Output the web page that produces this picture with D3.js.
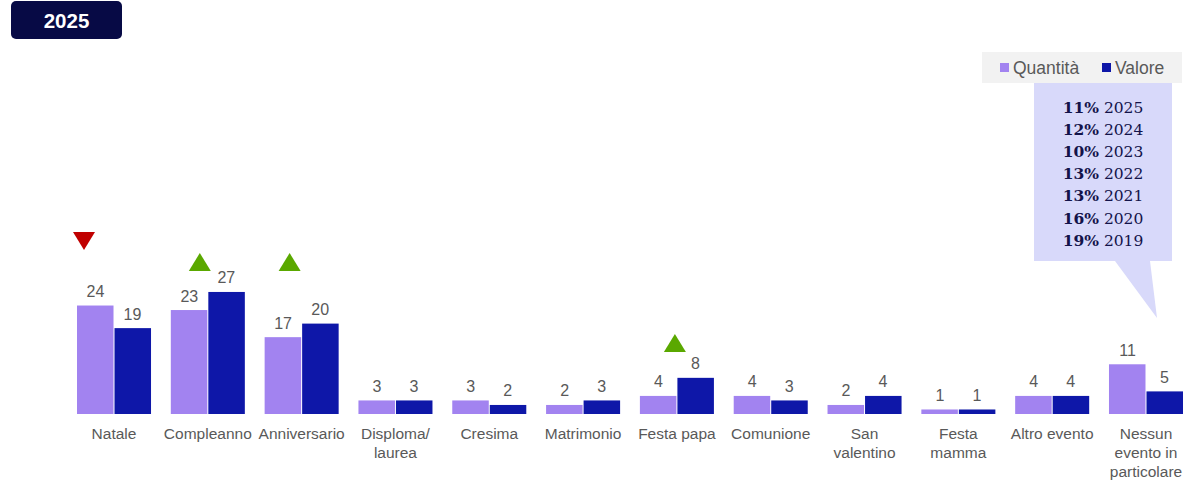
<!DOCTYPE html>
<html>
<head>
<meta charset="utf-8">
<script src="https://cdn.jsdelivr.net/npm/d3@7"></script>
<style>
  html, body { margin: 0; padding: 0; background: #ffffff; }
  svg { display: block; font-family: "Liberation Sans", Arial, sans-serif; }
</style>
</head>
<body>
<svg id="chart" width="1186" height="480"></svg>
<script>
// Occasions and shares (%) by quantity and by value
const categories = [
  "Natale", "Compleanno", "Anniversario", "Disploma/\nlaurea", "Cresima",
  "Matrimonio", "Festa papa", "Comunione", "San\nvalentino", "Festa\nmamma",
  "Altro evento", "Nessun\nevento in\nparticolare"
];
const seriesNames = ["Quantità", "Valore"];
const quantita = [24, 23, 17, 3, 3, 2, 4, 4, 2, 1, 4, 11];
const valore   = [19, 27, 20, 3, 2, 3, 8, 3, 4, 1, 4, 5];

// Year-over-year trend markers
const trendCategories = ["Natale", "Compleanno", "Anniversario", "Festa papa"];
const trendDirections = ["down", "up", "up", "up"];

// "Nessun evento" history shown in the callout
const historyShares = ["11%", "12%", "10%", "13%", "13%", "16%", "19%"];
const historyYears  = ["2025", "2024", "2023", "2022", "2021", "2020", "2019"];

const title = "2025";

// ---- layout ----
const colors = { "Quantità": "#a283f0", "Valore": "#0e17a8" };
const labelColor = "#595959";
const baseline = 414;
const markerLayout = [   // x offset from group start, top y
  { dx: 7,  top: 232 },
  { dx: 29, top: 253 },
  { dx: 25, top: 253 },
  { dx: 35, top: 334 }
];

const svg = d3.select("#chart");

const data = categories.map((c, i) => ({
  cat: c,
  values: [{ s: "Quantità", v: quantita[i] }, { s: "Valore", v: valore[i] }]
}));

const x0 = d3.scaleBand()
  .domain(categories)
  .range([67.1, 1192.9])
  .paddingInner(0.211)
  .paddingOuter(0.1055);

const x1 = d3.scaleBand()
  .domain(seriesNames)
  .range([0, x0.bandwidth()]);

const y = d3.scaleLinear()
  .domain([0, 30])
  .range([baseline, baseline - 30 * 4.52]);

// Title badge
const badge = svg.append("g");
badge.append("rect")
  .attr("x", 11).attr("y", 1).attr("width", 111).attr("height", 38)
  .attr("rx", 5).attr("fill", "#070a45");
badge.append("text")
  .attr("x", 66.5).attr("y", 28)
  .attr("text-anchor", "middle")
  .attr("fill", "#ffffff")
  .attr("font-size", 20.5).attr("font-weight", "bold")
  .text(title);

// Bars
const groups = svg.append("g").selectAll("g")
  .data(data).join("g")
  .attr("transform", d => `translate(${x0(d.cat)},0)`);

groups.selectAll("rect")
  .data(d => d.values).join("rect")
  .attr("x", d => x1(d.s) + (d.s === "Valore" ? 0.5 : 0))
  .attr("y", d => y(d.v))
  .attr("width", x1.bandwidth() - 0.5)
  .attr("height", d => y(0) - y(d.v))
  .attr("fill", d => colors[d.s]);

groups.selectAll("text.val")
  .data(d => d.values).join("text")
  .attr("class", "val")
  .attr("x", d => x1(d.s) + x1.bandwidth() / 2)
  .attr("y", d => y(d.v) - 8.5)
  .attr("text-anchor", "middle")
  .attr("fill", labelColor)
  .attr("font-size", 16)
  .text(d => d.v);

// Category labels
const catLabels = svg.append("g").selectAll("text")
  .data(categories).join("text")
  .attr("x", d => x0(d) + x0.bandwidth() / 2)
  .attr("y", 439)
  .attr("text-anchor", "middle")
  .attr("fill", labelColor)
  .attr("font-size", 15.5);
catLabels.each(function(d) {
  const t = d3.select(this);
  d.split("\n").forEach((line, i) => {
    t.append("tspan")
      .attr("x", x0(d) + x0.bandwidth() / 2)
      .attr("dy", i === 0 ? 0 : 19)
      .text(line);
  });
});

// Trend triangles
const triW = 22, triH = 18;
svg.append("g").selectAll("path")
  .data(trendCategories.map((c, i) => ({ c, dir: trendDirections[i], lay: markerLayout[i] })))
  .join("path")
  .attr("d", d => {
    const cx = x0(d.c) + d.lay.dx;
    const t = d.lay.top;
    return d.dir === "up"
      ? `M${cx - triW / 2},${t + triH} L${cx + triW / 2},${t + triH} L${cx},${t} Z`
      : `M${cx - triW / 2},${t} L${cx + triW / 2},${t} L${cx},${t + triH} Z`;
  })
  .attr("fill", d => d.dir === "up" ? "#5aa800" : "#c00000");

// Legend
const legend = svg.append("g");
legend.append("rect")
  .attr("x", 982).attr("y", 52).attr("width", 200).attr("height", 31)
  .attr("fill", "#f2f2f2");
const legendX = [1000, 1102];
seriesNames.forEach((s, i) => {
  legend.append("rect")
    .attr("x", legendX[i]).attr("y", 63).attr("width", 9).attr("height", 9)
    .attr("fill", colors[s]);
  legend.append("text")
    .attr("x", legendX[i] + 13).attr("y", 74)
    .attr("fill", labelColor)
    .attr("font-size", 17.5)
    .text(s);
});

// Callout for "Nessun evento in particolare"
const callout = svg.append("g");
callout.append("path")
  .attr("d", "M1034,83 L1172,83 L1172,261 L1150,261 L1157,318 L1115,261 L1034,261 Z")
  .attr("fill", "#d8d9fa");
const hist = callout.append("g")
  .attr("font-family", "'DejaVu Serif', Georgia, serif")
  .attr("fill", "#13134a")
  .attr("font-size", 15.5);
historyYears.forEach((yr, i) => {
  const t = hist.append("text")
    .attr("x", 1103).attr("y", 112.5 + i * 22.2)
    .attr("text-anchor", "middle");
  t.append("tspan").attr("font-weight", "bold").text(historyShares[i]);
  t.append("tspan").text(" " + yr);
});
</script>
</body>
</html>
